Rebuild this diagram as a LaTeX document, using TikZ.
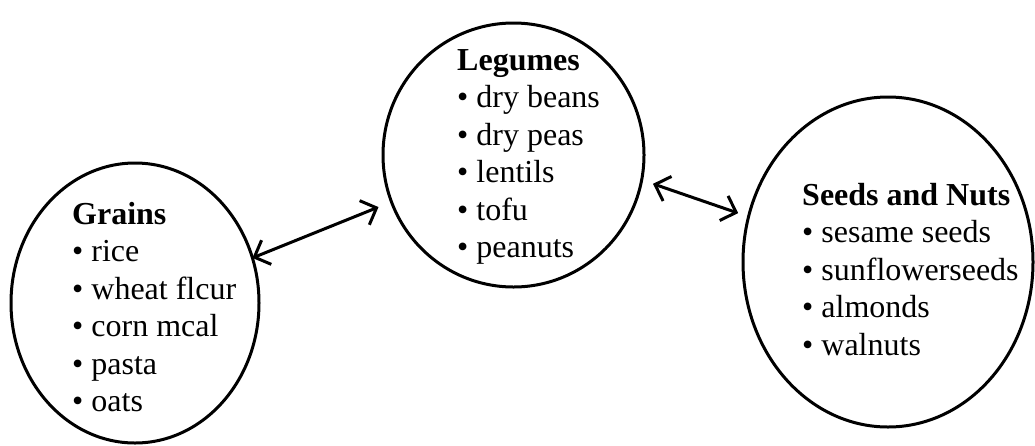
\documentclass[tikz,border=0pt]{standalone}
\usepackage{fontspec}
\setmainfont{Liberation Serif}
\usetikzlibrary{shapes.geometric,arrows.meta}
\tikzset{
  ell/.style={draw, ellipse, line width=3pt, inner sep=0pt, outer sep=0pt},
  lst/.style={anchor=base west, inner sep=0pt, font=\fontsize{32}{37.5}\selectfont},
  dbl/.style={line width=3pt, {Straight Barb[length=13pt,width=26pt,line width=3pt]}-{Straight Barb[length=13pt,width=26pt,line width=3pt]}}
}
\newcommand\itemlist[1]{\vtop{\baselineskip=37.5pt #1}}
\begin{document}
\begin{tikzpicture}[x=1pt,y=-1pt]
\useasboundingbox (0,0) rectangle (1035,445);
\node[ell, minimum width=248pt, minimum height=280pt] (grains) at (135,303) {};
\node[ell, minimum width=261pt, minimum height=264pt] (legumes) at (513.5,155) {};
\node[ell, minimum width=290pt, minimum height=330pt] (seeds) at (888,262) {};
\node[lst] (tg) at (72,224) {\itemlist{\hbox{\textbf{Grains}}\hbox{• rice}\hbox{• wheat flcur}\hbox{• corn mcal}\hbox{• pasta}\hbox{• oats}}};
\node[lst] (tl) at (457,70) {\itemlist{\hbox{\textbf{Legumes}}\hbox{• dry beans}\hbox{• dry peas}\hbox{• lentils}\hbox{• tofu}\hbox{• peanuts}}};
\node[lst] (ts) at (802,205) {\itemlist{\hbox{\textbf{Seeds and Nuts}}\hbox{• sesame seeds}\hbox{• sunflowerseeds}\hbox{• almonds}\hbox{• walnuts}}};
\draw[dbl, shorten >=14pt] (grains.21) -- (legumes.201);
\draw[dbl, shorten <=12pt, shorten >=11pt] (legumes.-11.5) -- (seeds.162.4);
\end{tikzpicture}
\end{document}
